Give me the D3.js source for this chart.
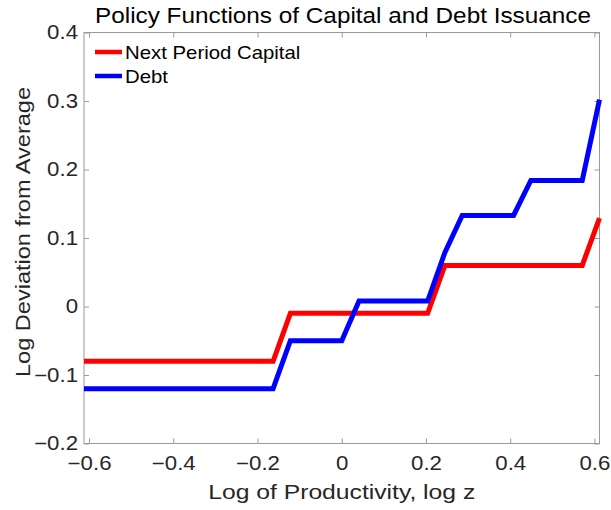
<!DOCTYPE html>
<html>
<head>
<meta charset="utf-8">
<script src="https://cdn.jsdelivr.net/npm/d3@7"></script>
<style>
  html, body { margin: 0; padding: 0; background: #fff; }
  svg { display: block; font-family: "Liberation Sans", Arial, Helvetica, sans-serif; }
</style>
</head>
<body>
<svg id="chart" width="611" height="510"></svg>
<script>
// Productivity grid (log z) and the two policy functions evaluated on it
const logZ = [-0.612, -0.571, -0.530, -0.490, -0.449, -0.408, -0.367, -0.326, -0.286, -0.245,
              -0.204, -0.163, -0.122, -0.082, -0.041, 0.000, 0.041, 0.082, 0.122, 0.163,
              0.204, 0.245, 0.286, 0.326, 0.367, 0.408, 0.449, 0.490, 0.530, 0.571, 0.612];
const nextCapital = [-0.08, -0.08, -0.08, -0.08, -0.08, -0.08, -0.08, -0.08, -0.08, -0.08,
                     -0.08, -0.08, -0.01, -0.01, -0.01, -0.01, -0.01, -0.01, -0.01, -0.01,
                     -0.01, 0.06, 0.06, 0.06, 0.06, 0.06, 0.06, 0.06, 0.06, 0.06, 0.129];
const debt = [-0.12, -0.12, -0.12, -0.12, -0.12, -0.12, -0.12, -0.12, -0.12, -0.12,
              -0.12, -0.12, -0.05, -0.05, -0.05, -0.05, 0.008, 0.008, 0.008, 0.008,
              0.008, 0.079, 0.133, 0.133, 0.133, 0.133, 0.184, 0.184, 0.184, 0.184, 0.302];
const xTicks = [-0.6, -0.4, -0.2, 0, 0.2, 0.4, 0.6];
const yTicks = [-0.2, -0.1, 0, 0.1, 0.2, 0.3, 0.4];
const seriesNames = ["Next Period Capital", "Debt"];
const seriesColors = ["#ff0000", "#0000ff"];

const svg = d3.select("#chart");
const m = { left: 84, right: 611 - 599.5, top: 32.5, bottom: 510 - 443.5 };
const W = 611 - m.left - m.right, H = 510 - m.top - m.bottom;

const x = d3.scaleLinear().domain([d3.min(logZ), d3.max(logZ)]).range([m.left, m.left + W]);
const y = d3.scaleLinear().domain([-0.2, 0.4]).range([m.top + H, m.top]);

const axisColor = "#9a9a9a", labelColor = "#262626";
const fmt = d => d === 0 ? "0" : d3.format(".1f")(d);
const stretch = 1.14; // glyphs are drawn a little wider than the font's natural width

// widen a text element horizontally while keeping its anchor
function widen(sel, factor) {
  sel.each(function () {
    const len = this.getComputedTextLength();
    d3.select(this).attr("textLength", len * factor).attr("lengthAdjust", "spacingAndGlyphs");
  });
}

function styleAxis(g, showLabels) {
  g.select(".domain").remove();
  g.selectAll(".tick line").attr("stroke", axisColor).attr("stroke-width", 1);
  g.selectAll(".tick text").attr("fill", labelColor).style("font-size", "19.5px");
  if (!showLabels) g.selectAll(".tick text").remove();
  else widen(g.selectAll(".tick text"), stretch);
}

// inward ticks on all four sides
svg.append("g").attr("transform", `translate(0,${m.top + H})`)
  .call(d3.axisBottom(x).tickValues(xTicks).tickFormat(fmt).tickSizeInner(-5).tickSizeOuter(0).tickPadding(13))
  .call(g => styleAxis(g, true));
svg.append("g").attr("transform", `translate(0,${m.top})`)
  .call(d3.axisTop(x).tickValues(xTicks).tickSizeInner(-5).tickSizeOuter(0))
  .call(g => styleAxis(g, false));
svg.append("g").attr("transform", `translate(${m.left},0)`)
  .call(d3.axisLeft(y).tickValues(yTicks).tickFormat(fmt).tickSizeInner(-5).tickSizeOuter(0).tickPadding(6))
  .call(g => styleAxis(g, true));
svg.append("g").attr("transform", `translate(${m.left + W},0)`)
  .call(d3.axisRight(y).tickValues(yTicks).tickSizeInner(-5).tickSizeOuter(0))
  .call(g => styleAxis(g, false));

svg.append("rect").attr("x", m.left).attr("y", m.top).attr("width", W).attr("height", H)
  .attr("fill", "none").attr("stroke", axisColor).attr("stroke-width", 1);

const line = d3.line().x((d, i) => x(logZ[i])).y(d => y(d));
[nextCapital, debt].forEach((s, k) => {
  svg.append("path").datum(s).attr("d", line)
    .attr("fill", "none").attr("stroke", seriesColors[k]).attr("stroke-width", 5)
    .attr("stroke-linejoin", "miter");
});

// legend
const leg = svg.append("g");
seriesNames.forEach((name, k) => {
  const ly = 52 + k * 24;
  leg.append("line").attr("x1", 95).attr("x2", 122).attr("y1", ly).attr("y2", ly)
    .attr("stroke", seriesColors[k]).attr("stroke-width", 4.5);
  leg.append("text").attr("x", 125).attr("y", ly + 7)
    .style("font-size", "18.5px").attr("fill", "#000").text(name)
    .call(widen, 1.1);
});

// title and axis labels
svg.append("text").attr("x", 95).attr("y", 23)
  .style("font-size", "21.5px").attr("fill", "#000")
  .attr("textLength", 496).attr("lengthAdjust", "spacingAndGlyphs")
  .text("Policy Functions of Capital and Debt Issuance");
svg.append("text").attr("x", m.left + W / 2).attr("y", 499).attr("text-anchor", "middle")
  .style("font-size", "20.5px").attr("fill", labelColor)
  .attr("textLength", 267).attr("lengthAdjust", "spacingAndGlyphs")
  .text("Log of Productivity, log z");
svg.append("text").attr("transform", `translate(30,232) rotate(-90)`).attr("text-anchor", "middle")
  .style("font-size", "20px").attr("fill", labelColor)
  .attr("textLength", 290).attr("lengthAdjust", "spacingAndGlyphs")
  .text("Log Deviation from Average");
</script>
</body>
</html>
